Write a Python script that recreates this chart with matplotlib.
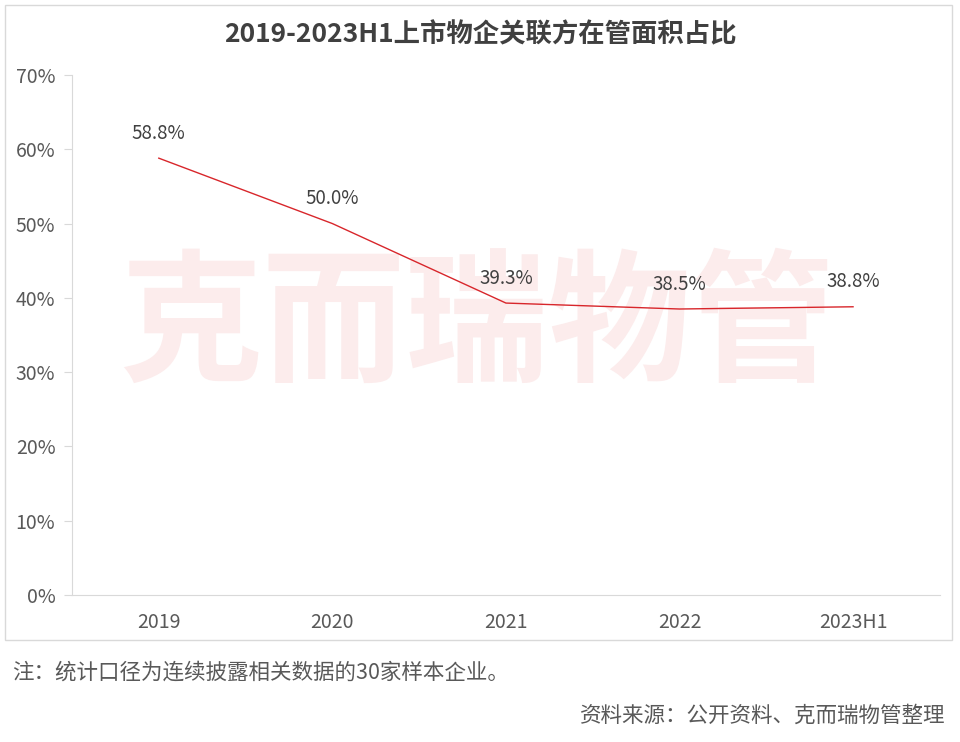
import matplotlib.pyplot as plt
from matplotlib.patches import Rectangle
from matplotlib.ticker import FuncFormatter

plt.rcParams['font.family'] = ['Noto Sans CJK SC', 'DejaVu Sans']

years = ['2019', '2020', '2021', '2022', '2023H1']
ratio = [58.8, 50.0, 39.3, 38.5, 38.8]
labels = ['58.8%', '50.0%', '39.3%', '38.5%', '38.8%']

fig = plt.figure(figsize=(9.6, 7.42), dpi=100)

# outer frame around the chart
fig.patches.append(Rectangle((5 / 960, 1 - 640 / 742), 947 / 960, 635 / 742,
                             transform=fig.transFigure, fill=False,
                             edgecolor='#d9d9d9', linewidth=1))

ax = fig.add_axes([0.075, 0.198, 0.904, 0.701])
x = [i + 0.5 for i in range(len(years))]

# watermark
ax.text(2.33, 35.9, '克而瑞物管', ha='center', va='center', fontsize=103,
        fontweight='bold', color='#fcecec', zorder=0)

ax.plot(x, ratio, color='#d8262b', linewidth=1.0, zorder=3)

for xi, v, lab in zip(x, ratio, labels):
    ax.annotate(lab, (xi, v), xytext=(0, 18), textcoords='offset points',
                ha='center', va='center', fontsize=13.5, color='#404040')

ax.set_xlim(0, 5)
ax.set_ylim(0, 70)
ax.set_xticks(x)
ax.set_xticklabels(years)
ax.set_yticks(range(0, 71, 10))
ax.yaxis.set_major_formatter(FuncFormatter(lambda v, p: f'{v:.0f}%'))

for s in ['top', 'right']:
    ax.spines[s].set_visible(False)
ax.spines['left'].set_color('#d9d9d9')
ax.spines['bottom'].set_color('#d9d9d9')
ax.tick_params(axis='y', length=6, color='#d9d9d9', labelsize=14,
               labelcolor='#595959', pad=6)
ax.tick_params(axis='x', length=0, labelsize=14, labelcolor='#595959', pad=12)

fig.text(0.5, 1 - 35 / 742, '2019-2023H1上市物企关联方在管面积占比',
         ha='center', va='center', fontsize=19, fontweight='bold', color='#404040')
fig.text(12 / 960, 1 - 673 / 742, '注：统计口径为连续披露相关数据的30家样本企业。',
         ha='left', va='center', fontsize=15.5, color='#595959')
fig.text(945 / 960, 1 - 716 / 742, '资料来源：公开资料、克而瑞物管整理',
         ha='right', va='center', fontsize=15.5, color='#595959')

plt.savefig('out.png', dpi=100)
